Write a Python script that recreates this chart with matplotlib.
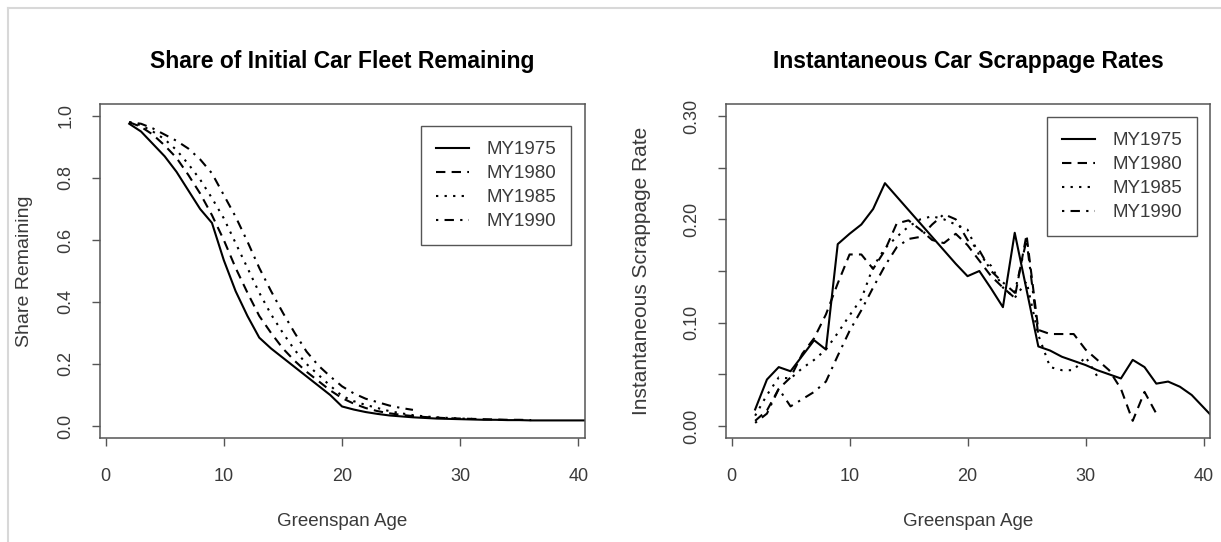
import matplotlib
matplotlib.use('Agg')
import matplotlib.pyplot as plt
from matplotlib.lines import Line2D

plt.rcParams['font.family'] = ['Liberation Sans', 'DejaVu Sans']

# ---------------- data ----------------
series_names = ['MY1975', 'MY1980', 'MY1985', 'MY1990']

ages_1975 = list(range(2, 42))
ages_1980 = list(range(2, 37))
ages_1985 = list(range(2, 32))
ages_1990 = list(range(2, 27))

share_1975 = [0.975, 0.95, 0.91, 0.87, 0.82, 0.76, 0.70, 0.655, 0.535, 0.435,
              0.355, 0.285, 0.25, 0.22, 0.19, 0.16, 0.13, 0.10, 0.063, 0.053,
              0.045, 0.039, 0.034, 0.031, 0.028, 0.026, 0.024, 0.023, 0.022, 0.021,
              0.020, 0.020, 0.019, 0.019, 0.018, 0.018, 0.018, 0.018, 0.018, 0.018]
share_1980 = [0.98, 0.965, 0.94, 0.905, 0.865, 0.81, 0.75, 0.68, 0.60, 0.51,
              0.43, 0.355, 0.30, 0.25, 0.21, 0.175, 0.145, 0.115, 0.09, 0.072,
              0.058, 0.048, 0.041, 0.036, 0.032, 0.029, 0.027, 0.025, 0.024, 0.023,
              0.022, 0.021, 0.020, 0.020, 0.019]
share_1985 = [0.98, 0.97, 0.95, 0.925, 0.89, 0.845, 0.795, 0.735, 0.67, 0.59,
              0.51, 0.43, 0.36, 0.30, 0.245, 0.20, 0.165, 0.13, 0.097, 0.08,
              0.068, 0.058, 0.048, 0.041, 0.035, 0.031, 0.028, 0.026, 0.024, 0.023]
share_1990 = [0.98, 0.975, 0.96, 0.94, 0.92, 0.895, 0.86, 0.815, 0.745, 0.675,
              0.595, 0.51, 0.435, 0.365, 0.30, 0.24, 0.195, 0.16, 0.128, 0.105,
              0.088, 0.077, 0.066, 0.058, 0.052]

rate_1975 = [0.016, 0.045, 0.057, 0.053, 0.068, 0.083, 0.074, 0.176, 0.186, 0.195,
             0.21, 0.235, 0.222, 0.209, 0.196, 0.183, 0.17, 0.157, 0.145, 0.15,
             0.133, 0.115, 0.187, 0.132, 0.077, 0.073, 0.067, 0.063, 0.059, 0.054,
             0.05, 0.046, 0.064, 0.057, 0.041, 0.043, 0.038, 0.03, 0.018, 0.006]
rate_1980 = [0.005, 0.015, 0.036, 0.047, 0.07, 0.085, 0.108, 0.138, 0.166, 0.166,
             0.152, 0.17, 0.196, 0.199, 0.19, 0.18, 0.177, 0.186, 0.175, 0.16,
             0.145, 0.134, 0.124, 0.185, 0.093, 0.089, 0.089, 0.089, 0.074, 0.064,
             0.054, 0.036, 0.005, 0.033, 0.012]
rate_1985 = [0.01, 0.03, 0.047, 0.046, 0.056, 0.064, 0.074, 0.09, 0.107, 0.123,
             0.154, 0.172, 0.183, 0.193, 0.2, 0.203, 0.2, 0.195, 0.19, 0.165,
             0.155, 0.134, 0.124, 0.14, 0.088, 0.057, 0.054, 0.054, 0.067, 0.048]
rate_1990 = [0.003, 0.012, 0.036, 0.019, 0.026, 0.033, 0.043, 0.068, 0.092, 0.112,
             0.134, 0.155, 0.173, 0.181, 0.183, 0.195, 0.205, 0.2, 0.18, 0.17,
             0.15, 0.139, 0.129, 0.18, 0.088]

x_ticks = [0, 10, 20, 30, 40]
left_yticks = [0.0, 0.2, 0.4, 0.6, 0.8, 1.0]
left_yticklabels = ['0.0', '0.2', '0.4', '0.6', '0.8', '1.0']
right_yticks = [0.0, 0.05, 0.10, 0.15, 0.20, 0.25, 0.30]
right_yticklabels = ['0.00', '', '0.10', '', '0.20', '', '0.30']

# ---------------- style ----------------
W, H = 1221, 542
fig = plt.figure(figsize=(W / 100, H / 100), dpi=100)
fig.patch.set_facecolor('white')

styles = [
    dict(linestyle='-'),
    dict(linestyle=(0, (4.5, 3))),
    dict(linestyle=(0, (1.1, 3))),
    dict(linestyle=(0, (1.1, 3, 4.5, 3))),
]
LW = 1.5
TXT = '#3a3a3a'
AX = '#555555'


def px_rect(x0, x1, ytop, ybot):
    return [x0 / W, 1 - ybot / H, (x1 - x0) / W, (ybot - ytop) / H]


def style_axes(ax, yticks, ylabels):
    for s in ax.spines.values():
        s.set_color(AX)
        s.set_linewidth(1.1)
    ax.set_xlim(-0.47, 40.55)
    ax.set_xticks(x_ticks)
    ax.set_xticklabels([str(v) for v in x_ticks])
    ax.set_yticks(yticks)
    ax.set_yticklabels(ylabels, rotation=90, va='center')
    ax.tick_params(axis='both', direction='out', length=6, width=1.0,
                   color=AX, labelcolor=TXT, labelsize=13)
    ax.tick_params(axis='x', pad=15.5)
    ax.tick_params(axis='y', pad=12.5)


def add_legend(ax, anchor):
    leg = ax.legend(loc='upper right', bbox_to_anchor=anchor, borderaxespad=0,
                    fancybox=False, fontsize=13.5, labelspacing=0.37, borderpad=0.8,
                    handlelength=1.8, handletextpad=0.9, framealpha=1)
    leg.get_frame().set_edgecolor(AX)
    leg.get_frame().set_linewidth(1.0)
    for t in leg.get_texts():
        t.set_color(TXT)
    return leg


# left panel
ax1 = fig.add_axes(px_rect(100, 585, 103.6, 438.4))
xs1 = [ages_1975, ages_1980, ages_1985, ages_1990]
ys1 = [share_1975, share_1980, share_1985, share_1990]
for x, y, name, st in zip(xs1, ys1, series_names, styles):
    ax1.plot(x, y, color='black', lw=LW, label=name, **st)
ax1.set_ylim(-0.04, 1.04)
style_axes(ax1, left_yticks, left_yticklabels)
ax1.set_xlabel('Greenspan Age', fontsize=13.5, color=TXT)
ax1.xaxis.set_label_coords(0.5, -0.247)
ax1.xaxis.label.set_va('center')
ax1.set_ylabel('Share Remaining', fontsize=14, color=TXT)
ax1.yaxis.set_label_coords(-0.155, 0.5)
ax1.yaxis.label.set_va('center')
ax1.text(0.5, 1.125, 'Share of Initial Car Fleet Remaining', transform=ax1.transAxes,
         ha='center', va='center', fontsize=16.5, fontweight='bold', color='black')
add_legend(ax1, (0.971, 0.933))

# right panel
ax2 = fig.add_axes(px_rect(726, 1210, 103.6, 438.4))
ys2 = [rate_1975, rate_1980, rate_1985, rate_1990]
for x, y, name, st in zip(xs1, ys2, series_names, styles):
    ax2.plot(x, y, color='black', lw=LW, label=name, **st)
ax2.set_ylim(-0.012, 0.312)
style_axes(ax2, right_yticks, right_yticklabels)
ax2.set_xlabel('Greenspan Age', fontsize=13.5, color=TXT)
ax2.xaxis.set_label_coords(0.5, -0.247)
ax2.xaxis.label.set_va('center')
ax2.set_ylabel('Instantaneous Scrappage Rate', fontsize=15, color=TXT)
ax2.yaxis.set_label_coords(-0.174, 0.5)
ax2.yaxis.label.set_va('center')
ax2.text(0.5, 1.125, 'Instantaneous Car Scrappage Rates', transform=ax2.transAxes,
         ha='center', va='center', fontsize=16.5, fontweight='bold', color='black')
add_legend(ax2, (0.973, 0.96))

# thin outer frame (top and left) as in the screenshot
fig.add_artist(Line2D([8 / W, 1], [1 - 8 / H, 1 - 8 / H], transform=fig.transFigure,
                      color='#d8d8d8', lw=1.5))
fig.add_artist(Line2D([8 / W, 8 / W], [0, 1 - 8 / H], transform=fig.transFigure,
                      color='#d8d8d8', lw=1.5))

fig.savefig('out.png', dpi=100, facecolor='white')
